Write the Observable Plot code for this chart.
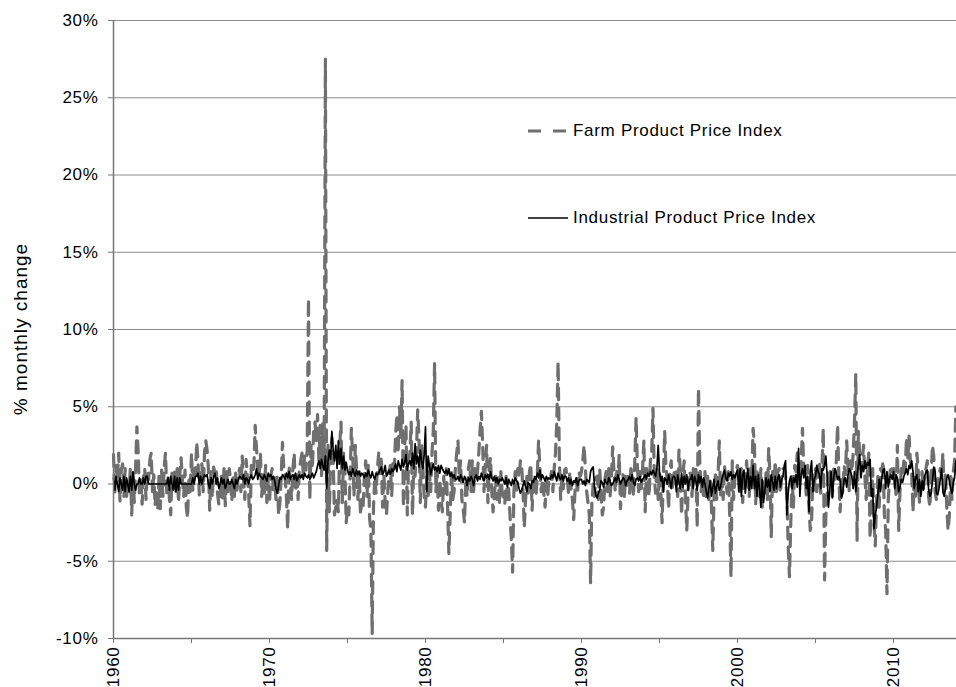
<!DOCTYPE html>
<html>
<head>
<meta charset="utf-8">
<script src="https://cdn.jsdelivr.net/npm/d3@7"></script>
<script src="https://cdn.jsdelivr.net/npm/@observablehq/plot@0.6"></script>
<style>
  html, body { margin: 0; padding: 0; background: #fff; }
  #wrap { position: relative; width: 956px; height: 687px; overflow: hidden; font-family: "Liberation Sans", Arial, sans-serif; }
  #ylab { position: absolute; left: 21px; top: 329px; transform: translate(-50%, -50%) rotate(-90deg); font-size: 19px; letter-spacing: 1px; white-space: nowrap; color: #000; }
  .leg { position: absolute; display: flex; align-items: center; font-size: 17px; letter-spacing: 0.7px; white-space: nowrap; color: #000; }
  .leg svg { margin-right: 5px; }
</style>
</head>
<body>
<div id="wrap">
  <div id="chart"></div>
  <div id="ylab">% monthly change</div>
  <div class="leg" id="leg1"></div>
  <div class="leg" id="leg2"></div>
</div>
<script>
// Monthly % change, Jan 1960 – Jan 2014
const startYear = 1960;
const farm = [
  // 1960
  1.9, -0.6, 1.2, 0.4, 2.0, -1.1, 0.9, 1.3, -0.8, 1.0, -0.9, 0.3,
  // 1961
  -0.5, 1.1, -2.0, 0.6, -1.2, 1.0, 3.7, 2.0, -0.8, 0.5, -1.3, 0.4,
  // 1962
  1.0, -1.0, 0.8, 0.3, 1.6, 2.0, -0.5, 0.6, -1.4, -0.3, -1.7, 0.5,
  // 1963
  -1.6, 0.9, -0.8, 1.1, 2.0, -0.6, 0.4, -0.9, -2.0, 0.7, -0.3, 0.8,
  // 1964
  -0.5, 1.0, -1.2, 0.6, 1.7, 0.3, -0.8, 0.9, -1.5, -2.2, 0.5, -0.6,
  // 1965
  2.0, -0.4, 1.2, 0.6, 2.7, 1.5, -0.7, 0.8, 1.3, -0.5, 2.0, 2.8,
  // 1966
  2.2, 1.0, -1.7, 0.8, -0.9, 1.1, 0.7, 1.0, -0.6, -1.3, -1.0, 0.5,
  // 1967
  -0.9, 1.0, -1.4, 0.8, -0.5, 1.0, 0.3, -1.1, 0.4, -0.8, 0.7, -0.4,
  // 1968
  0.6, 1.0, -0.5, 1.8, 0.3, -1.0, 1.6, 0.5, -0.7, -2.7, 1.2, 0.8,
  // 1969
  1.1, 3.8, 2.3, 1.0, 0.5, 2.0, -0.8, 0.6, -0.6, 1.2, -1.2, 0.4,
  // 1970
  -1.2, 0.5, 1.0, -0.5, 0.4, -1.0, 0.6, -2.0, -1.2, 0.5, 2.7, 1.0,
  // 1971
  0.5, -0.8, -2.9, 1.2, 0.3, -1.0, 1.0, 2.0, -0.5, 0.8, -1.0, 1.0,
  // 1972
  1.5, 2.0, 0.6, 1.8, 0.9, 2.2, 12.0, -1.0, 2.5, 1.0, 3.5, 4.0,
  // 1973
  2.8, 4.5, 1.5, 3.8, 0.5, 4.0, 1.0, 27.5, -4.3, 2.5, -1.8, 1.5,
  // 1974
  3.0, 1.5, -2.0, -1.5, -1.0, -1.8, 2.5, 4.0, -1.2, 2.0, 1.0, -2.5,
  // 1975
  -1.5, -2.0, 0.5, 3.6, 1.8, -0.8, 2.5, 1.0, -1.0, 0.8, -2.0, -1.0,
  // 1976
  -1.5, 0.5, 1.5, -0.8, 1.2, -2.2, -3.0, -9.7, -1.5, 0.4, -0.6, 1.0,
  // 1977
  2.0, 0.5, 1.8, -1.5, 0.6, -1.2, -2.0, -0.5, 0.8, 1.2, -0.8, 1.5,
  // 1978
  1.0, 3.2, 4.5, 2.0, 5.0, 3.0, 6.7, -1.5, 2.5, 3.8, -2.0, 1.5,
  // 1979
  2.0, 4.0, -2.0, 1.5, 0.5, 2.0, 4.8, 3.0, -1.2, 2.5, 1.0, -0.8,
  // 1980
  -1.5, 0.5, -1.0, 0.8, -0.5, 2.0, 3.5, 7.8, -0.5, 1.0, -1.7, 0.3,
  // 1981
  -1.0, -1.8, 0.5, -0.6, 1.0, -1.5, -4.5, -2.0, 0.8, -1.0, -0.5, 1.0,
  // 1982
  2.0, 2.8, 0.5, 1.5, -1.0, -1.6, -2.5, 0.3, -0.8, 1.0, 1.5, -0.5,
  // 1983
  1.5, -0.5, 1.0, 0.3, 0.8, 2.0, 3.5, 4.7, 2.5, -0.5, 1.2, 2.5,
  // 1984
  -1.2, 1.0, 1.7, -0.5, -1.8, -0.8, 0.5, -1.0, 0.4, -1.3, 0.8, -0.6,
  // 1985
  -0.8, -1.3, 0.5, -1.0, -0.3, -2.0, -3.5, -5.7, -0.5, 0.8, -0.4, 1.0,
  // 1986
  0.4, 1.5, 1.2, -0.5, -2.8, -1.0, 0.5, -0.6, 0.8, 1.3, -1.7, 0.3,
  // 1987
  0.5, -0.8, 0.6, 2.8, 1.0, -0.5, 0.3, -0.6, -1.5, 0.6, -0.8, 0.4,
  // 1988
  0.4, 0.8, -0.5, 1.0, 2.0, 4.0, 7.9, 1.5, -1.0, 0.5, -0.3, 0.9,
  // 1989
  1.0, 0.4, -0.6, 0.8, -0.4, -1.0, -2.3, -0.5, 0.3, -0.6, 0.8, 0.5,
  // 1990
  0.8, 1.5, 2.5, 1.0, -0.5, -1.2, -2.0, -6.4, -1.2, 0.0, -0.8, 0.4,
  // 1991
  0.5, -1.0, 1.0, -0.5, -2.0, -1.5, 0.3, 0.8, -0.5, 1.0, -0.8, 0.4,
  // 1992
  2.4, 0.8, -0.5, 1.0, 0.3, 1.9, -1.6, -0.3, 0.6, -0.8, 0.5, -0.2,
  // 1993
  0.5, -0.6, 1.0, 0.4, -0.8, 1.5, 4.3, 1.2, -0.5, 0.8, -0.3, 1.0,
  // 1994
  2.8, -1.8, 1.0, 0.5, -0.8, 1.5, 2.0, 4.9, 0.5, -0.6, 1.2, -1.0,
  // 1995
  0.8, -0.5, -2.5, 0.5, 3.4, 1.0, 0.3, -1.6, 0.8, 1.5, -0.4, 0.6,
  // 1996
  1.0, 0.5, -0.8, 2.2, 1.0, -2.0, 0.6, 1.5, -1.0, -3.0, -0.5, 0.8,
  // 1997
  0.6, -0.8, 1.0, 0.3, 1.2, -2.8, 6.2, 1.5, -0.5, 0.4, -1.0, 0.8,
  // 1998
  -0.8, 0.5, -1.2, 0.3, -1.5, -4.3, -0.8, 0.6, -1.0, 0.4, 2.8, -0.7,
  // 1999
  0.5, -1.0, 1.2, 0.3, -0.6, 0.8, -2.0, -6.0, 1.5, -1.0, 0.4, 0.9,
  // 2000
  1.2, 0.6, -0.5, 1.0, -1.2, 0.8, -0.4, 1.5, 0.3, -0.8, 1.0, 0.5,
  // 2001
  3.6, 2.6, -1.3, 1.0, 0.5, -0.8, 1.0, -1.5, 0.3, -0.6, 0.8, -1.0,
  // 2002
  2.3, 0.5, -3.4, 0.8, -0.5, 1.5, -0.5, 0.8, 1.0, -0.6, 0.4, 1.0,
  // 2003
  1.0, 0.5, -0.8, -4.0, -6.0, -2.5, 0.5, -1.5, 1.2, 0.8, 2.0, 0.3,
  // 2004
  0.8, 1.5, 3.6, 1.0, 0.5, -0.8, 1.2, -1.5, -3.0, -2.5, 0.6, -0.4,
  // 2005
  1.0, -0.5, 0.8, 1.5, -0.6, 1.2, 3.6, -6.2, -2.0, -0.5, 0.8, 1.0,
  // 2006
  0.5, -0.8, 1.0, 0.3, 1.5, 3.8, 0.5, -1.8, 0.4, -0.5, 1.2, 0.6,
  // 2007
  2.8, 1.0, -0.5, 1.5, 0.8, 2.0, 4.0, 7.1, -3.7, 3.4, 2.0, 1.0,
  // 2008
  1.5, 2.5, 0.5, -1.0, 1.0, 2.0, -3.5, -1.5, 1.0, -2.5, -4.0, -1.0,
  // 2009
  0.5, -1.5, 1.0, 0.8, 1.5, -2.0, -3.0, -7.1, -1.0, 0.5, 1.2, 0.8,
  // 2010
  1.0, 0.5, -0.8, 2.5, -3.0, -0.5, 1.0, 0.6, 1.5, 0.8, 3.0, 1.6,
  // 2011
  3.1, 1.5, 0.8, -1.8, 0.5, -1.0, 2.0, 1.0, -1.2, -0.5, 0.8, -0.3,
  // 2012
  0.5, 1.0, 1.5, -0.8, -1.5, 0.6, 2.5, 1.8, -0.5, -1.0, 0.3, 0.5,
  // 2013
  1.0, 0.5, 2.0, -0.6, 0.8, -1.5, -3.0, -2.0, 0.5, -1.0, 0.8, 1.5,
  // 2014
  5.0
];
const industrial = [
  // 1960
  0.4, -0.4, 0.5, 0, -0.5, 0.4, 0, -0.4, 0.5, -0.5, 0.4, 0,
  // 1961
  -0.5, 0.5, -0.4, 0.8, 0, -0.4, 0, 0, 0.4, 0, 0, 0.4,
  // 1962
  0, 0.5, 0.5, 0, 0, 0, 0, 0, 0, 0, 0, 0,
  // 1963
  0, 0, 0, 0, 0, 0, 0.4, -0.4, 0.5, 0, -0.4, 0.5,
  // 1964
  -0.5, 0.4, -0.4, 0.4, 0, 0, 0, 0, 0, 0, 0, 0,
  // 1965
  0, 0.4, 0, 0.5, 0.5, 0.7, 0, 0.5, 0, 0.4, 0.6, 0.5,
  // 1966
  0.6, 0, -0.3, 0.4, 0, 0.5, 0.7, 0, 0.4, -0.3, 0, 0.4,
  // 1967
  0, 0.3, -0.3, 0, 0.3, 0, 0, 0.3, 0, -0.3, 0.3, 0,
  // 1968
  0.3, 0.5, 0.4, 0.3, 0.6, 0, 0.4, 0.3, 0, 0.4, 0.6, 0.3,
  // 1969
  0.4, 0.6, 1.0, 0.3, 0.7, 0.5, 0.4, 0.3, 0.6, 0.4, 0.2, 0.7,
  // 1970
  0.5, 0.6, 0.3, 0.5, 0.2, -0.3, -0.6, -0.1, 0.4, 0.3, 0.6, 0.5,
  // 1971
  0.3, 0.7, 0.4, 0.8, 0.3, 0.5, 0.6, 0.3, 0.7, 0.2, 0.4, 0.6,
  // 1972
  0.4, 0.6, 0.3, 0.7, 0.5, 0.4, 0.6, 0.3, 0.5, 0.7, 0.4, 0.6,
  // 1973
  0.8, 1.2, 1.5, 1.0, 1.6, 1.2, 0.9, 1.8, -0.3, 1.5, 2.2, 1.6,
  // 1974
  3.4, 2.2, 1.5, 2.5, 1.0, 2.8, 1.3, 2.3, 1.0, 1.8, 0.9, 1.4,
  // 1975
  0.9, 0.6, 0.8, 0.5, 1.0, 0.7, 0.5, 0.9, 0.6, 0.8, 0.5, 0.7,
  // 1976
  0.6, 0.4, 0.7, 0.5, 0.9, 0.6, 0.4, 0.8, 0.5, 0.3, 0.7, 0.6,
  // 1977
  0.7, 0.9, 1.1, 0.6, 0.8, 1.2, 0.5, 0.7, 0.9, 0.6, 1.0, 0.8,
  // 1978
  1.0, 1.3, 0.8, 1.5, 1.2, 0.9, 1.6, 1.1, 1.4, 1.9, 0.9, 1.3,
  // 1979
  1.5, 1.2, 2.0, 1.0, 2.6, 1.3, 1.8, 1.1, 2.2, 1.5, 1.0, 1.9,
  // 1980
  3.7, -0.5, 1.8, 1.2, 0.6, 1.0, 1.3, 0.9, 1.1, 0.8, 1.2, 0.7,
  // 1981
  1.2, 1.0, 0.8, 0.7, 0.9, 0.6, 1.0, 0.5, 0.7, 0.4, 0.6, 0.3,
  // 1982
  0.3, 0.5, 0.2, 0.6, 0.4, 0.1, 0.5, 0.3, -0.1, 0.4, 0.2, 0.5,
  // 1983
  0.3, -0.1, 0.4, 0.6, 0.2, 0.5, 0.3, 0.7, 0.4, 0.2, 0.6, 0.4,
  // 1984
  0.6, 0.3, 0.8, 0.4, 0.2, 0.5, 0.1, 0.4, 0.0, 0.3, 0.2, 0.4,
  // 1985
  0.2, 0.0, 0.4, -0.2, 0.3, 0.1, -0.1, 0.3, 0.0, 0.4, 0.2, 0.1,
  // 1986
  -0.3, -0.6, -0.4, -0.1, 0.2, -0.2, -0.5, 0.1, 0.0, -0.3, 0.2, 0.1,
  // 1987
  0.5, 0.3, 0.7, 0.4, 0.9, 0.3, 0.6, 0.4, 0.2, 0.5, 0.3, 0.4,
  // 1988
  0.3, 0.6, 0.4, 0.8, 0.5, 0.2, 0.7, 0.4, 0.3, 0.6, 0.2, 0.5,
  // 1989
  0.5, 0.2, 0.4, 0.0, 0.3, -0.1, 0.2, 0.1, 0.4, -0.1, 0.2, 0.3,
  // 1990
  0.3, 0.0, 0.2, -0.1, 0.3, 0.2, 0.1, 0.8, 1.0, 1.1, -0.2, -0.7,
  // 1991
  -0.9, -0.6, -0.4, 0.2, 0.1, -0.2, 0.3, 0.1, 0.0, 0.4, 0.2, -0.1,
  // 1992
  0.0, 0.2, 0.4, 0.1, 0.6, 0.3, 0.0, 0.2, 0.4, 0.3, -0.1, 0.2,
  // 1993
  0.3, 0.5, 0.2, 0.6, 0.1, -0.1, 0.3, 0.4, 0.2, 0.5, 0.1, 0.3,
  // 1994
  0.4, 0.6, 0.3, 0.7, 0.5, 0.8, 0.6, 0.9, 0.7, 0.5, 1.0, 2.5,
  // 1995
  0.8, 0.2, 0.5, -0.5, 0.4, 0.3, 0.0, 0.6, 0.2, -0.3, 0.4, 0.5,
  // 1996
  0.4, -0.5, 0.6, 0.1, -0.3, 0.7, -0.2, 0.5, 0.0, 0.6, -0.4, 0.3,
  // 1997
  0.3, 0.6, -0.3, 0.5, 0.2, -0.4, 0.6, 0.1, 0.5, -0.2, 0.4, 0.0,
  // 1998
  -0.5, -0.9, -0.3, 0.2, -0.8, -0.2, 0.3, -0.6, -0.1, 0.2, -0.4, -0.2,
  // 1999
  0.3, 0.6, 0.9, 0.4, 0.2, 0.7, 0.5, 0.8, 0.3, 0.6, 0.4, 0.7,
  // 2000
  0.9, -0.5, 1.0, -0.8, 0.6, 0.9, -0.6, 0.3, 1.0, -0.4, 0.5, -0.3,
  // 2001
  1.2, -0.3, 0.5, -0.8, 0.6, -0.4, -1.5, 0.3, -1.2, -0.5, 0.4, -0.2,
  // 2002
  0.3, -0.5, 0.6, 0.2, -0.4, 0.5, -0.3, 0.4, 0.6, -0.2, 0.3, 0.5,
  // 2003
  1.2, 1.5, -2.0, -0.6, 0.2, 0.5, -0.3, 0.4, 0.1, 0.6, -0.2, 2.3,
  // 2004
  -0.8, 0.6, 1.0, 0.4, 1.2, -0.3, 0.5, -1.8, 0.8, 1.5, -0.5, 0.3,
  // 2005
  0.5, 1.2, 0.8, 0.6, -0.3, 1.0, 0.9, 1.2, 1.8, 0.5, -1.5, -0.4,
  // 2006
  0.8, -0.9, 0.4, 1.0, 0.7, 0.3, 0.5, 0.2, -0.9, -0.6, 0.3, 0.4,
  // 2007
  -0.2, 0.6, 1.0, 0.8, 0.5, -0.3, 0.8, -0.5, 0.6, 1.2, 1.9, 0.4,
  // 2008
  1.2, 0.8, 1.5, 1.0, 1.4, 1.2, 1.6, -0.8, -0.3, -2.9, -2.0, -1.5,
  // 2009
  -0.7, 0.3, -0.5, 0.4, 0.9, 1.0, -0.3, 0.8, -0.2, 0.4, 0.6, 0.3,
  // 2010
  0.8, -0.3, 0.6, 0.4, -0.5, -0.2, 0.3, 0.1, 0.5, 0.7, 1.0, 0.6,
  // 2011
  1.2, 1.0, 1.5, 0.8, -0.3, 0.4, 0.6, -0.5, 0.3, -0.8, 0.2, -0.4,
  // 2012
  0.5, 0.8, 0.9, -0.3, -0.8, -0.6, 0.2, 1.1, 0.8, -0.6, -0.7, -0.3,
  // 2013
  0.3, 1.0, -0.5, -0.8, -0.3, 0.4, 0.6, 0.2, -0.3, -0.6, 0.1, 0.4,
  // 2014
  1.5
];
const yTicks = [-10, -5, 0, 5, 10, 15, 20, 25, 30];
const xTicks = [1960, 1965, 1970, 1975, 1980, 1985, 1990, 1995, 2000, 2005, 2010];
const xLabelYears = [1960, 1970, 1980, 1990, 2000, 2010];
const seriesNames = ["Farm Product Price Index", "Industrial Product Price Index"];

const rows = farm.map((f, i) => ({t: startYear + i / 12, farm: f, industrial: industrial[i]}));

const farmStyle = {stroke: "#6f6f6f", strokeWidth: 3.2, strokeDasharray: "12,8"};
const indStyle = {stroke: "#000", strokeWidth: 1.7};

const chart = Plot.plot({
  width: 956,
  height: 687,
  marginLeft: 113,
  marginRight: 0,
  marginTop: 20,
  marginBottom: 49,
  style: {fontFamily: "'Liberation Sans', Arial, sans-serif", fontSize: "17px", letterSpacing: "0.7px", color: "#000", background: "#fff"},
  x: {domain: [1960, 2014.04]},
  y: {domain: [-10, 30]},
  marks: [
    Plot.gridY(yTicks, {stroke: "#8c8c8c", strokeOpacity: 1, strokeWidth: 1}),
    Plot.axisY(yTicks, {tickFormat: d => d + "%", tickSize: 5, tickPadding: 10, stroke: "#777", fill: "#000", label: null, fontSize: 17}),
    Plot.axisX(xTicks, {tickFormat: d => xLabelYears.includes(d) ? String(d) : "", tickRotate: -90, tickSize: 5, tickPadding: 3, stroke: "#777", fill: "#000", label: null, fontSize: 17}),
    Plot.line(rows, {x: "t", y: "farm", ...farmStyle}),
    Plot.line(rows, {x: "t", y: "industrial", ...indStyle}),
    Plot.ruleX([1960], {stroke: "#777", strokeWidth: 1.5}),
    Plot.ruleY([-10], {stroke: "#777", strokeWidth: 1.5})
  ]
});
document.getElementById("chart").appendChild(chart);

function legendSwatch(style) {
  const ns = "http://www.w3.org/2000/svg";
  const s = document.createElementNS(ns, "svg");
  s.setAttribute("width", "40"); s.setAttribute("height", "8");
  const l = document.createElementNS(ns, "line");
  l.setAttribute("x1", "0"); l.setAttribute("x2", "40");
  l.setAttribute("y1", "4"); l.setAttribute("y2", "4");
  l.setAttribute("stroke", style.stroke);
  l.setAttribute("stroke-width", style.strokeWidth);
  if (style.strokeDasharray) l.setAttribute("stroke-dasharray", style.strokeDasharray);
  s.appendChild(l);
  return s;
}
const leg1 = document.getElementById("leg1");
leg1.style.left = "528px"; leg1.style.top = "121px";
leg1.appendChild(legendSwatch({...farmStyle, strokeDasharray: "13,12"}));
leg1.appendChild(document.createTextNode(seriesNames[0]));
const leg2 = document.getElementById("leg2");
leg2.style.left = "528px"; leg2.style.top = "208px";
leg2.appendChild(legendSwatch(indStyle));
leg2.appendChild(document.createTextNode(seriesNames[1]));
</script>
</body>
</html>
